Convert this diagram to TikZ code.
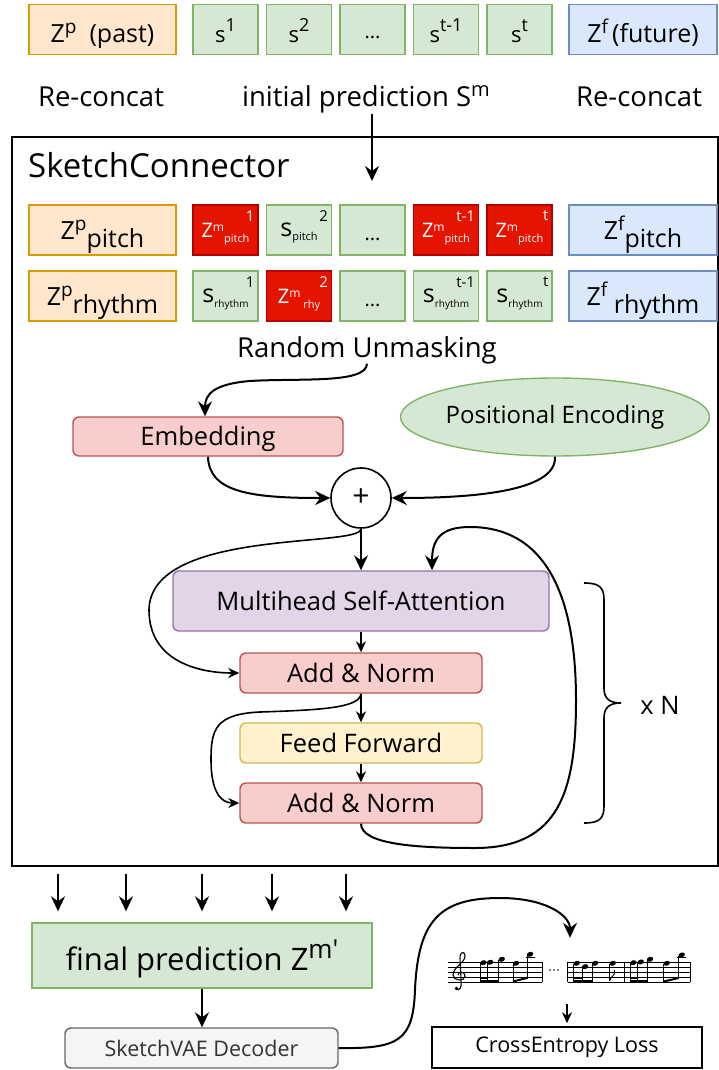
\documentclass[tikz,border=0pt]{standalone}
\usepackage{fontspec}
\setmainfont{Open Sans}
\usetikzlibrary{arrows.meta,shapes.geometric}

\definecolor{peachF}{HTML}{FFE6CC}\definecolor{peachD}{HTML}{D79B00}
\definecolor{grnF}{HTML}{D5E8D4}\definecolor{grnD}{HTML}{82B366}
\definecolor{bluF}{HTML}{DAE8FC}\definecolor{bluD}{HTML}{6C8EBF}
\definecolor{redF}{HTML}{E51400}\definecolor{redD}{HTML}{B20000}
\definecolor{pnkF}{HTML}{F8CECC}\definecolor{pnkD}{HTML}{B85450}
\definecolor{purF}{HTML}{E1D5E7}\definecolor{purD}{HTML}{9673A6}
\definecolor{yelF}{HTML}{FFF2CC}\definecolor{yelD}{HTML}{D6B656}
\definecolor{gryF}{HTML}{F5F5F5}\definecolor{gryD}{HTML}{666666}\definecolor{gryT}{HTML}{333333}

% font size helper and raised/lowered small text
\newcommand\fs[1]{\fontsize{#1}{#1}\selectfont}
\newcommand\rz[3]{\raisebox{#1}{\fs{#2}#3}}

% music engraving helpers
\newcommand\nhead[2]{\fill[rotate around={20:(#1,#2)}] (#1,#2) ellipse (3.3 and 2.4);}
\newcommand\nstem[3]{\draw[line width=0.8pt] ({#1-3.1},{#2+0.5}) -- ({#1-3.1},#3);}
\newcommand\staffrow[2]{\foreach \k in {0,...,4}{\draw[line width=0.6pt] (#1,{962+5*\k}) -- (#2,{962+5*\k});}}
\newcommand\barl[1]{\draw[line width=0.8pt] (#1,962) -- (#1,982);}
% 16th-16th-8th group
\newcommand\grpA[6]{\nhead{#1}{#2}\nhead{#3}{#4}\nhead{#5}{#6}
  \nstem{#1}{#2}{982}\nstem{#3}{#4}{982}\nstem{#5}{#6}{982}
  \draw[line width=2pt] ({#1-3.1},981) -- ({#5-3.1},981);
  \draw[line width=2pt] ({#1-3.1},977.5) -- ({#3-3.1},977.5);}
% two beamed eighths, second one high with a ledger line
\newcommand\grpB[4]{\nhead{#1}{#2}\nhead{#3}{#4}
  \nstem{#1}{#2}{982}\nstem{#3}{#4}{978.5}
  \draw[line width=2pt] ({#1-3.1},981.5) -- ({#3-3.1},978);
  \draw[line width=0.6pt] ({#3-4.5},957) -- ({#3+4.5},957);}

\begin{document}
\begin{tikzpicture}[x=1pt,y=-1pt,
  cell/.style={draw,line width=1.4pt,inner sep=0pt,minimum height=50pt},
  pastbox/.style={cell,fill=peachF,draw=peachD,minimum width=147pt},
  futbox/.style={cell,fill=bluF,draw=bluD,minimum width=148pt},
  segbox/.style={cell,fill=grnF,draw=grnD,minimum width=65pt},
  maskbox/.style={cell,fill=redF,draw=redD,text=white,minimum width=65pt},
  rbox/.style={draw,line width=1.4pt,rounded corners=6pt,inner sep=0pt,
    text height=18.2pt,text depth=0pt,font=\fs{25.5}},
  pinkbox/.style={rbox,fill=pnkF,draw=pnkD,minimum width=242pt,minimum height=40pt},
  idxw/.style={anchor=north east,font=\fs{15},text=white,inner sep=0pt,xshift=-4pt,yshift=-6pt},
  idxk/.style={idxw,text=black},
  lbl/.style={font=\fs{27.5},anchor=base,inner sep=0pt},
  arr/.style={line width=2pt,-{Stealth[length=15pt,width=14pt,inset=5pt]}},
  sarr/.style={line width=1.6pt,-{Stealth[length=11pt,width=10pt,inset=3.5pt]}}
]
\useasboundingbox (0,0) rectangle (719,1070);

% ---------- input sequence ----------
\begin{scope}[every node/.append style={text height=27pt,text depth=0pt}]
\node[pastbox,font=\fs{25}] (zp) at (102.5,29.5) {Z\rz{9pt}{19}{p}\ \ (past)};
\node[segbox,font=\fs{22}] (s1) at (225.5,29.5) {s\rz{11pt}{18}{1}};
\node[segbox,font=\fs{22}] (s2) at (299,29.5) {s\rz{11pt}{18}{2}};
\node[segbox,font=\fs{20},text height=18pt] (sd) at (372.5,29.5) {...};
\node[segbox,font=\fs{22}] (st1) at (446,29.5) {s\rz{11pt}{18}{t-1}};
\node[segbox,font=\fs{22}] (st) at (519.5,29.5) {s\rz{11pt}{18}{t}};
\node[futbox,font=\fs{25}] (zf) at (643,29.5) {Z\rz{9pt}{19}{f}\,(future)};
\end{scope}

\node[lbl] (rc1) at (101,107) {Re-concat};
\node[lbl] (ip) at (366,107) {initial prediction S\rz{10pt}{20}{m}};
\node[lbl] (rc2) at (639,107) {Re-concat};

% ---------- SketchConnector frame ----------
\node[draw,line width=2pt,minimum width=706pt,minimum height=729pt,inner sep=0pt] (sc) at (365,501.5) {};
\node[font=\fs{33},anchor=west,inner sep=0pt] (title) at (28,165) {SketchConnector};
\coordinate (cin) at (372,181);
\draw[arr] (ip.south -| cin) -- (cin);

% pitch row
\node[pastbox,font=\fs{25},text height=18pt,text depth=0pt] (zpp) at (102.5,230) {Z\rz{9pt}{19}{p}\rz{-8pt}{25}{pitch}};
\node[maskbox,font=\fs{20},text height=14pt,text depth=0pt] (mp1) at (225.5,230) {Z\rz{6pt}{12}{m}\rz{-5pt}{11}{pitch}};
\node[idxw] (mp1i) at (mp1.north east) {1};
\node[segbox,font=\fs{25},text height=12pt,text depth=0pt] (sp2) at (299,230) {s\rz{-4pt}{11}{pitch}};
\node[idxk] (sp2i) at (sp2.north east) {2};
\node[segbox,font=\fs{20},text height=20pt,text depth=0pt] (pd) at (372.5,230) {...};
\node[maskbox,font=\fs{20},text height=14pt,text depth=0pt] (mpt1) at (446,230) {Z\rz{6pt}{12}{m}\rz{-5pt}{11}{pitch}};
\node[idxw] (mpt1i) at (mpt1.north east) {t-1};
\node[maskbox,font=\fs{20},text height=14pt,text depth=0pt] (mpt) at (519.5,230) {Z\rz{6pt}{12}{m}\rz{-5pt}{11}{pitch}};
\node[idxw] (mpti) at (mpt.north east) {t};
\node[futbox,font=\fs{25},text height=18pt,text depth=0pt] (zfp) at (643,230) {Z\rz{9pt}{19}{f}\rz{-8pt}{25}{pitch}};

% rhythm row
\node[pastbox,font=\fs{25},text height=18pt,text depth=0pt] (zpr) at (102.5,296) {Z\rz{9pt}{19}{p}\rz{-8pt}{25}{rhythm}};
\node[segbox,font=\fs{25},text height=12pt,text depth=0pt] (sr1) at (225.5,296) {s\rz{-5pt}{10}{rhythm}};
\node[idxk] (sr1i) at (sr1.north east) {1};
\node[maskbox,font=\fs{20},text height=14pt,text depth=0pt] (mr2) at (299,296) {Z\rz{6pt}{12}{m}\rz{-5pt}{11}{\ rhy}};
\node[idxw] (mr2i) at (mr2.north east) {2};
\node[segbox,font=\fs{20},text height=20pt,text depth=0pt] (rd) at (372.5,296) {...};
\node[segbox,font=\fs{25},text height=12pt,text depth=0pt] (srt1) at (446,296) {s\rz{-5pt}{10}{rhythm}};
\node[idxk] (srt1i) at (srt1.north east) {t-1};
\node[segbox,font=\fs{25},text height=12pt,text depth=0pt] (srt) at (519.5,296) {s\rz{-5pt}{10}{rhythm}};
\node[idxk] (srti) at (srt.north east) {t};
\node[futbox,font=\fs{25},text height=18pt,text depth=0pt] (zfr) at (643,296) {Z\rz{9pt}{19}{f}\ \rz{-8pt}{25}{rhythm}};

% ---------- encoder ----------
\node[lbl] (ru) at (367,357) {Random Unmasking};
\node[rbox,fill=pnkF,draw=pnkD,minimum width=270pt,minimum height=39pt] (emb) at (208,436.5) {Embedding};
\node[ellipse,draw=grnD,fill=grnF,line width=1.4pt,minimum width=304pt,minimum height=78pt,
  inner sep=0pt,font=\fs{24}] (pe) at (555,417) {Positional Encoding};
\node[circle,draw,fill=white,line width=1.6pt,minimum size=60pt,inner sep=0pt,font=\fs{30}] (plus) at (361,498) {+};

\node[rbox,fill=purF,draw=purD,minimum width=376pt,minimum height=60pt] (msa) at (361,601) {Multihead Self-Attention};
\node[pinkbox] (an1) at (361,673) {Add \& Norm};
\node[rbox,fill=yelF,draw=yelD,minimum width=242pt,minimum height=40pt] (ff) at (361,743) {Feed Forward};
\node[pinkbox] (an2) at (361,803) {Add \& Norm};
\node[font=\fs{25.5}] (xn) at (660,705) {x N};

\draw[arr] (ru.south) .. controls (366,384) and (300,378) .. (250,381)
  .. controls (214,384) and (205,394) .. ([xshift=-3pt]emb.north);
\draw[arr] (emb.south) .. controls (209,492) and (250,498) .. (plus.west);
\draw[arr] (pe.south) .. controls (557,492) and (470,498) .. (plus.east);
\draw[arr] (plus.south) -- (msa.north);
\draw[sarr] (plus.south) .. controls (361,548) and (150,528) .. (149,610)
  .. controls (149,662) and (200,673) .. (an1.west);
\draw[sarr] (msa.south) -- (an1.north);
\draw[sarr] (an1.south) .. controls (360,708) and (320,710) .. (260,712)
  .. controls (215,714) and (211,730) .. (211,760)
  .. controls (211,790) and (220,803) .. (an2.west);
\draw[sarr] (an1.south) -- (ff.north);
\draw[sarr] (ff.south) -- (an2.north);
\draw[arr] (an2.south) .. controls (361,845) and (420,848) .. (475,848)
  .. controls (560,848) and (576,790) .. (576,700)
  .. controls (576,600) and (548,527) .. (470,527)
  .. controls (440,527) and (432,540) .. ([xshift=71pt]msa.north);

% repetition brace
\draw[line width=1.6pt] (584,583) .. controls (599,583) and (604,587) .. (604,600) -- (604,688)
  .. controls (604,699) and (610,703) .. (621,703)
  .. controls (610,703) and (604,707) .. (604,718) -- (604,806)
  .. controls (604,819) and (599,823) .. (584,823);

% ---------- output ----------
\node[cell,fill=grnF,draw=grnD,minimum width=340pt,minimum height=65pt,font=\fs{31},
  text height=29pt,text depth=0pt] (fp) at (202,955.5) {final prediction Z\rz{12pt}{26}{m\textquotesingle}};
\foreach \x in {58,126,202,272,346}
  \draw[arr,shorten <=7pt,shorten >=11pt] (sc.south -| \x,0) -- (fp.north -| \x,0);
\node[draw=gryD,fill=gryF,text=gryT,line width=1.4pt,rounded corners=6pt,minimum width=273pt,
  minimum height=40pt,inner sep=0pt,font=\fs{21.5}] (dec) at (201.5,1048) {SketchVAE Decoder};
\draw[arr] (fp.south) -- (dec.north -| fp.south);

\node[draw,line width=1.5pt,minimum width=270pt,minimum height=41pt,inner sep=0pt,font=\fs{21.5}] (ce) at (567,1047.5) {CrossEntropy Loss};
\node[minimum width=245pt,minimum height=50pt,inner sep=0pt] (score) at (569.5,970) {};

\draw[arr] (dec.east) .. controls (400,1049) and (413,1040) .. (415,990)
  .. controls (418,920) and (440,898) .. (500,898)
  .. controls (545,898) and (570,915) .. ([xshift=0.5pt,yshift=7pt]score.north);
\draw[sarr,shorten <=9pt,shorten >=3pt] (score.south -| ce.north) -- (ce.north);

% score excerpt
\staffrow{448}{542}
\staffrow{567.7}{690}
\barl{542}\barl{567.7}\barl{624}\barl{690}
% treble clef
\draw[line width=1.1pt] (456,989) .. controls (460,992) and (462,986) .. (461,980) -- (460,958)
  .. controls (460,951) and (465,951) .. (465,956)
  .. controls (465,963) and (453,967) .. (453,975)
  .. controls (453,981) and (465,982) .. (465,976)
  .. controls (465,971) and (458,971) .. (458,975);
\fill (456.5,988.5) circle (1.8);
\grpA{483.3}{962.7}{490}{962.3}{501.7}{959.3}
\grpB{516}{963.3}{530}{954.3}
\foreach \d in {550,554,558}{\fill (\d,970) circle (0.9);}
\grpA{576.7}{963.3}{585}{966.7}{595}{963.3}
\nhead{612.7}{963.3}\nstem{612.7}{963.3}{981}
\draw[line width=0.9pt] (609.6,981) .. controls (610.5,976) and (616,975.5) .. (614.5,970);
\grpA{633.3}{962.7}{640.7}{962}{650}{959.3}
\grpB{666.7}{963.3}{681.7}{955}
\end{tikzpicture}
\end{document}
